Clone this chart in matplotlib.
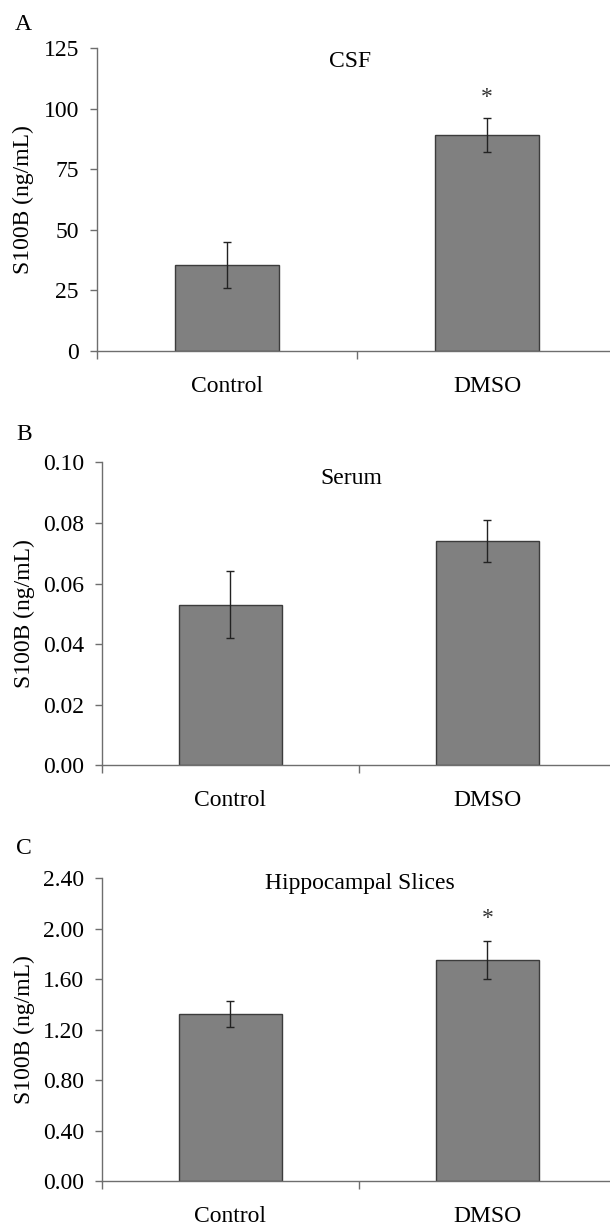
import numpy as np
import matplotlib
matplotlib.use("Agg")
import matplotlib.pyplot as plt
from matplotlib.ticker import FormatStrFormatter

plt.rcParams['font.family'] = ['Liberation Serif', 'DejaVu Serif']

groups = ["Control", "DMSO"]

csf_mean = [35.5, 89.0]
csf_err = [9.5, 6.9]
serum_mean = [0.053, 0.074]
serum_err = [0.011, 0.007]
hippo_mean = [1.325, 1.755]
hippo_err = [0.10, 0.15]

# significance marks: (group index, y value)
csf_star = [(1, 104.5)]
hippo_star = [(1, 2.08)]

panels = [
    dict(letter="A", title="CSF", mean=csf_mean, err=csf_err, stars=csf_star,
         ylim=(0, 125), yticks=[0, 25, 50, 75, 100, 125], fmt="%d",
         rect=[97/610, 1 - 350.7/1228, 520/610, 302.7/1228],
         title_xy=(0.487, 0.955), letter_y=25, ylab_x=23),
    dict(letter="B", title="Serum", mean=serum_mean, err=serum_err, stars=[],
         ylim=(0, 0.10), yticks=[0, 0.02, 0.04, 0.06, 0.08, 0.10], fmt="%.2f",
         rect=[102/610, 1 - 765.3/1228, 514/610, 303/1228],
         title_xy=(0.486, 0.945), letter_y=435, ylab_x=24),
    dict(letter="C", title="Hippocampal Slices", mean=hippo_mean, err=hippo_err, stars=hippo_star,
         ylim=(0, 2.40), yticks=[0, 0.40, 0.80, 1.20, 1.60, 2.00, 2.40], fmt="%.2f",
         rect=[102/610, 1 - 1181.3/1228, 514/610, 303/1228],
         title_xy=(0.502, 0.983), letter_y=849, ylab_x=24),
]

fs = 17
axis_col = "#6e6e6e"

fig = plt.figure(figsize=(6.10, 12.28), dpi=100)

for p in panels:
    ax = fig.add_axes(p["rect"])
    x = np.arange(len(groups))
    ax.bar(x, p["mean"], width=0.4, color="#808080", edgecolor="#3c3c3c", linewidth=1.0, zorder=2)
    ax.errorbar(x, p["mean"], yerr=p["err"], fmt="none", ecolor="#222222",
                elinewidth=1.0, capsize=3, capthick=1.0, zorder=3)
    for gi, yv in p["stars"]:
        ax.text(gi, yv, "*", ha="center", va="center", fontsize=fs, color="#333333")

    ax.set_xlim(-0.5, 1.5)
    ax.set_ylim(*p["ylim"])
    ax.set_yticks(p["yticks"])
    ax.yaxis.set_major_formatter(FormatStrFormatter(p["fmt"]))

    # category boundaries get tick marks, labels sit at the centres
    ax.set_xticks([-0.5, 0.5, 1.5])
    ax.set_xticklabels([])
    ax.set_xticks(x, minor=True)
    ax.set_xticklabels(groups, minor=True)
    ax.tick_params(axis="x", which="major", direction="out", length=5.5, width=1, color=axis_col)
    ax.tick_params(axis="x", which="minor", length=0, pad=18, labelsize=fs)
    ax.tick_params(axis="y", direction="out", length=5, width=1, color=axis_col, pad=8, labelsize=fs)

    for s in ["top", "right"]:
        ax.spines[s].set_visible(False)
    for s in ["left", "bottom"]:
        ax.spines[s].set_color(axis_col)
        ax.spines[s].set_linewidth(1.0)
        ax.spines[s].set_clip_on(False)

    ax.text(p["title_xy"][0], p["title_xy"][1], p["title"], transform=ax.transAxes,
            ha="center", va="center", fontsize=fs)

    fig.text(p["ylab_x"]/610, 0.5*(2*p["rect"][1] + p["rect"][3]), "S100B (ng/mL)",
             rotation=90, ha="center", va="center", fontsize=fs)
    fig.text(p["ylab_x"]/610, 1 - p["letter_y"]/1228, p["letter"],
             ha="center", va="center", fontsize=fs)

fig.savefig("out.png", dpi=100)
